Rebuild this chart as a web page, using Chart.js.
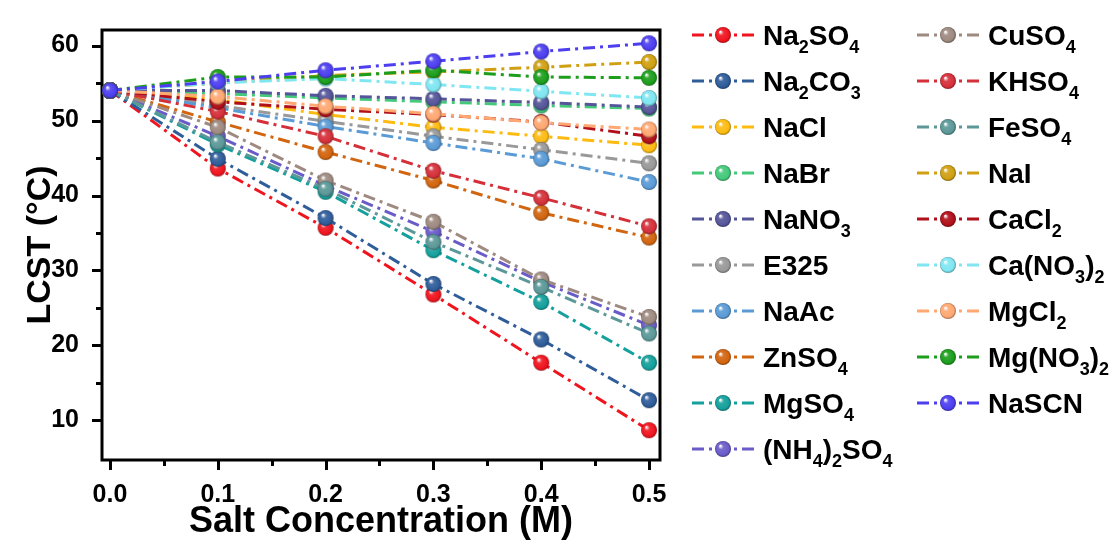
<!DOCTYPE html>
<html>
<head>
<meta charset="utf-8">
<script src="https://cdn.jsdelivr.net/npm/chart.js@4.4.0/dist/chart.umd.min.js"></script>
<style>
  html, body { margin: 0; padding: 0; background: #fff; }
  #wrap { width: 1118px; height: 550px; }
</style>
</head>
<body>
<div id="wrap"><canvas id="lcst-chart" width="1118" height="550"></canvas></div>
<script>
const concentrations = [0, 0.1, 0.2, 0.3, 0.4, 0.5];
const xTicks = [0, 0.1, 0.2, 0.3, 0.4, 0.5];
const yTicks = [10, 20, 30, 40, 50, 60];

// LCST values (°C) per salt, read at 0, 0.1 ... 0.5 M
const na2so4 = [54, 43.6, 35.7, 26.8, 17.7, 8.7];
const na2co3 = [54, 44.9, 37, 28.2, 20.8, 12.7];
const nacl = [54, 52.8, 50.8, 49.1, 47.9, 46.7];
const nabr = [54, 53.6, 53, 52.5, 52, 51.6];
const nano3 = [54, 54, 53.3, 52.9, 52.4, 51.8];
const e325 = [54, 52, 49.9, 47.9, 46.1, 44.3];
const naac = [54, 51.7, 49.2, 47, 44.9, 41.8];
const znso4 = [54, 49.8, 45.8, 42, 37.7, 34.4];
const mgso4 = [54, 46.8, 40.5, 32.7, 25.8, 17.7];
const nh42so4 = [54, 47.9, 41.3, 35.2, 28.5, 22.7];
const cuso4 = [54, 49.1, 42, 36.5, 28.8, 23.8];
const khso4 = [54, 51.2, 47.9, 43.3, 39.7, 35.9];
const feso4 = [54, 47.1, 40.9, 33.8, 27.8, 21.6];
const nai = [54, 55, 56, 56.5, 57.1, 57.8];
const cacl2 = [54, 52.5, 51.5, 50.8, 49.8, 47.9];
const cano32 = [54, 55, 55.6, 54.8, 53.9, 53];
const mgcl2 = [54, 53.2, 51.9, 50.9, 49.7, 48.8];
const mgno32 = [54, 55.8, 55.8, 56.7, 55.8, 55.7];
const nascn = [54, 55.2, 56.7, 57.9, 59.2, 60.3];

const salts = [
    { label: 'Na₂SO₄', data: na2so4, color: '#f0141e' },
    { label: 'Na₂CO₃', data: na2co3, color: '#2f5d9a' },
    { label: 'NaCl', data: nacl, color: '#fdbb12' },
    { label: 'NaBr', data: nabr, color: '#44c97a' },
    { label: 'NaNO₃', data: nano3, color: '#55559a' },
    { label: 'E325', data: e325, color: '#999999' },
    { label: 'NaAc', data: naac, color: '#5a9bd6' },
    { label: 'ZnSO₄', data: znso4, color: '#d2650f' },
    { label: 'MgSO₄', data: mgso4, color: '#14a09c' },
    { label: '(NH₄)₂SO₄', data: nh42so4, color: '#6a5cc8' },
    { label: 'CuSO₄', data: cuso4, color: '#9e8a80' },
    { label: 'KHSO₄', data: khso4, color: '#d5303a' },
    { label: 'FeSO₄', data: feso4, color: '#5c9898' },
    { label: 'NaI', data: nai, color: '#d0a012' },
    { label: 'CaCl₂', data: cacl2, color: '#b0101a' },
    { label: 'Ca(NO₃)₂', data: cano32, color: '#7fe6f2' },
    { label: 'MgCl₂', data: mgcl2, color: '#ffa872' },
    { label: 'Mg(NO₃)₂', data: mgno32, color: '#1c9e1c' },
    { label: 'NaSCN', data: nascn, color: '#4d3ff0' },
];

const FONT = '"Liberation Sans", Arial, sans-serif';
const DASH = [12, 5, 3, 5];
const R = 8;

function shade(hex, amt) {
    const n = parseInt(hex.slice(1), 16);
    let r = (n >> 16) & 255, g = (n >> 8) & 255, b = n & 255;
    const f = c => Math.round(amt < 0 ? c * (1 + amt) : c + (255 - c) * amt);
    return `rgb(${f(r)},${f(g)},${f(b)})`;
}

// shaded ball marker
function sphere(color) {
    const c = document.createElement('canvas');
    c.width = c.height = 2 * R + 2;
    const g = c.getContext('2d');
    const cx = R + 1, cy = R + 1;
    const grad = g.createRadialGradient(cx - R * 0.35, cy - R * 0.4, R * 0.05, cx, cy, R);
    grad.addColorStop(0, '#ffffff');
    grad.addColorStop(0.3, shade(color, 0.1));
    grad.addColorStop(0.8, color);
    grad.addColorStop(1, shade(color, -0.35));
    g.fillStyle = grad;
    g.beginPath();
    g.arc(cx, cy, R, 0, Math.PI * 2);
    g.fill();
    return c;
}

salts.forEach(s => s.ball = sphere(s.color));

const SUBS = '₀₁₂₃₄₅₆₇₈₉';
function drawRich(ctx, text, x, y, size) {
    for (const ch of text) {
        const i = SUBS.indexOf(ch);
        if (i >= 0) {
            ctx.font = `bold ${Math.round(size * 0.66)}px ${FONT}`;
            ctx.fillText(String(i), x, y + size * 0.28);
            x += ctx.measureText(String(i)).width;
        } else {
            ctx.font = `bold ${size}px ${FONT}`;
            ctx.fillText(ch, x, y);
            x += ctx.measureText(ch).width;
        }
    }
}

// frame + outward ticks
const framePlugin = {
    id: 'frame',
    beforeDatasetsDraw(chart) {
        const { ctx, chartArea: a, scales: { x, y } } = chart;
        ctx.save();
        ctx.strokeStyle = '#000';
        ctx.lineWidth = 3;
        ctx.strokeRect(a.left, a.top, a.right - a.left, a.bottom - a.top);
        ctx.lineCap = 'butt';
        ctx.beginPath();
        for (let v = 0; v <= 0.5001; v += 0.05) {
            const px = Math.round(x.getPixelForValue(v)) + 0.5;
            const major = Math.round(v * 100) % 10 === 0;
            ctx.moveTo(px, a.bottom);
            ctx.lineTo(px, a.bottom + (major ? 10 : 6));
        }
        for (let v = 10; v <= 60; v += 5) {
            const py = Math.round(y.getPixelForValue(v)) + 0.5;
            const major = v % 10 === 0;
            ctx.moveTo(a.left, py);
            ctx.lineTo(a.left - (major ? 10 : 6), py);
        }
        ctx.stroke();
        ctx.restore();
    }
};

// two-column legend with subscripts
const legendPlugin = {
    id: 'saltLegend',
    afterDraw(chart) {
        const ctx = chart.ctx;
        ctx.save();
        salts.forEach((s, i) => {
            const col = i < 10 ? 0 : 1;
            const row = i < 10 ? i : i - 10;
            const x0 = col === 0 ? 692 : 917;
            const cy = 35 + row * 46;
            ctx.strokeStyle = s.color;
            ctx.lineWidth = 3;
            ctx.setLineDash(DASH);
            ctx.beginPath();
            ctx.moveTo(x0, cy);
            ctx.lineTo(x0 + 66, cy);
            ctx.stroke();
            ctx.setLineDash([]);
            ctx.drawImage(s.ball, x0 + 31 - R - 1, cy - R - 1);
            ctx.fillStyle = '#000';
            ctx.textBaseline = 'alphabetic';
            drawRich(ctx, s.label, x0 + 71, cy + 10, 28);
        });
        ctx.restore();
    }
};

const ctx = document.getElementById('lcst-chart').getContext('2d');
new Chart(ctx, {
    type: 'line',
    data: {
        datasets: salts.map((s, i) => ({
            label: s.label,
            data: concentrations.map((c, k) => ({ x: c, y: s.data[k] })),
            borderColor: s.color,
            backgroundColor: s.color,
            borderWidth: 3,
            borderDash: DASH,
            pointStyle: s.ball,
            pointRadius: R,
            order: -i,
        })),
    },
    options: {
        responsive: false,
        animation: false,
        devicePixelRatio: 1,
        layout: { padding: { top: 25, right: 458, bottom: 0, left: 0 } },
        plugins: { legend: { display: false }, tooltip: { enabled: false } },
        scales: {
            x: {
                type: 'linear',
                min: -0.0074,
                max: 0.5102,
                grid: { display: false },
                border: { display: false },
                afterBuildTicks: scale => { scale.ticks = xTicks.map(v => ({ value: v })); },
                afterFit: scale => { scale.height = 90; },
                ticks: {
                    padding: 12,
                    color: '#000',
                    font: { family: FONT, size: 25, weight: 'bold' },
                    callback: v => v.toFixed(1),
                    maxRotation: 0,
                },
                title: {
                    display: true,
                    text: 'Salt Concentration (M)',
                    color: '#000',
                    font: { family: FONT, size: 36, weight: 'bold' },
                    padding: { top: 0, bottom: 6 },
                },
            },
            y: {
                type: 'linear',
                min: 4.73,
                max: 62.07,
                grid: { display: false },
                border: { display: false },
                afterBuildTicks: scale => { scale.ticks = yTicks.map(v => ({ value: v })); },
                afterFit: scale => { scale.width = 102; },
                ticks: {
                    padding: 15,
                    color: '#000',
                    font: { family: FONT, size: 25, weight: 'bold' },
                },
                title: {
                    display: true,
                    text: 'LCST (°C)',
                    color: '#000',
                    font: { family: FONT, size: 34, weight: 'bold' },
                    padding: { top: 20, bottom: 0 },
                },
            },
        },
    },
    plugins: [framePlugin, legendPlugin],
});
</script>
</body>
</html>
